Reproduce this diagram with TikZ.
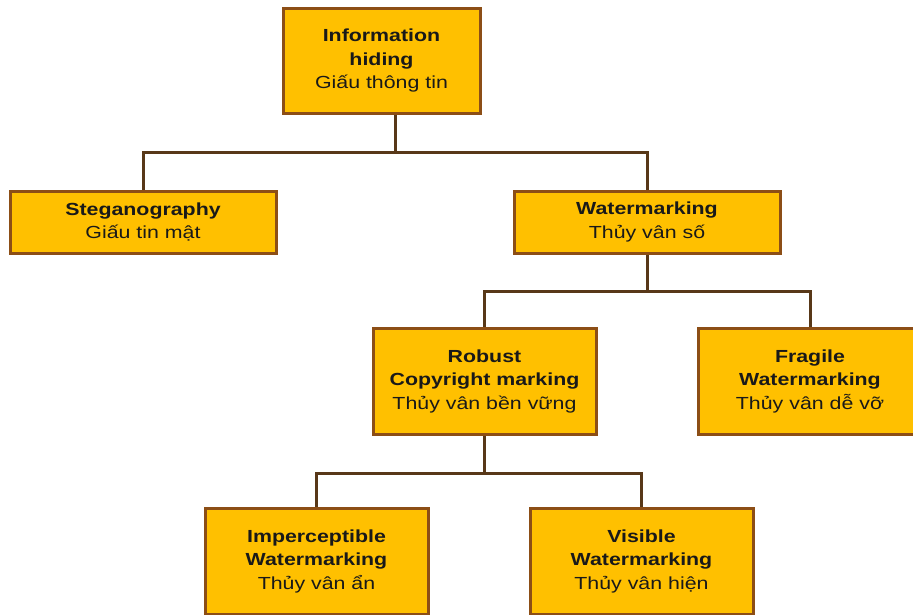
\documentclass[tikz,border=0pt]{standalone}
\usepackage{fontspec}
\setmainfont[FakeStretch=1.22]{Liberation Sans}
\definecolor{boxfill}{RGB}{255,192,0}
\definecolor{boxdraw}{RGB}{140,78,22}
\definecolor{linecol}{RGB}{88,56,24}
\tikzset{
  box/.style={draw=boxdraw, line width=3pt, fill=boxfill, align=center, inner sep=0pt,
    font=\fontsize{17.5}{23.5}\selectfont, text=black!90},
  conn/.style={draw=linecol, line width=3pt, line cap=rect},
}
\begin{document}
\begin{tikzpicture}[x=1pt,y=-1pt]
\useasboundingbox (0,0) rectangle (913,614);
\clip (0,0) rectangle (913,614);
\fill[white] (0,0) rectangle (913,614);
\coordinate (b1) at (0,152);
\coordinate (b2) at (0,291);
\coordinate (b3) at (0,473);
\node[box, minimum width=197, minimum height=105] (top) at (381.5,60.5) {\textbf{Information}\\\textbf{hiding}\\Giấu thông tin};
\node[box, minimum width=266, minimum height=62] (steg) at (143,222) {\textbf{Steganography}\\Giấu tin mật};
\node[box, minimum width=266, minimum height=62] (wm) at (647,222) {\textbf{Watermarking}\\Thủy vân số};
\node[box, minimum width=223, minimum height=106] (rob) at (484.5,381) {\textbf{Robust}\\\textbf{Copyright marking}\\Thủy vân bền vững};
\node[box, minimum width=224, minimum height=106] (fra) at (810,381) {\textbf{Fragile}\\\textbf{Watermarking}\\Thủy vân dễ vỡ};
\node[box, minimum width=223, minimum height=106] (imp) at (316.5,561) {\textbf{Imperceptible}\\\textbf{Watermarking}\\Thủy vân ẩn};
\node[box, minimum width=223, minimum height=106] (vis) at (641.5,561) {\textbf{Visible}\\\textbf{Watermarking}\\Thủy vân hiện};
\draw[conn] ([xshift=13.5,yshift=-1.5]top.south) -- ([xshift=13.5]top.south |- b1);
\draw[conn] ([yshift=1.5]steg.north) |- (b1 -| wm.north) -- ([yshift=1.5]wm.north);
\draw[conn] ([yshift=-1.5]wm.south) -- (wm.south |- b2);
\draw[conn] ([yshift=1.5]rob.north) |- (b2 -| fra.north) -- ([yshift=1.5]fra.north);
\draw[conn] ([yshift=-1.5]rob.south) -- (rob.south |- b3);
\draw[conn] ([yshift=1.5]imp.north) |- (b3 -| vis.north) -- ([yshift=1.5]vis.north);
\end{tikzpicture}
\end{document}
